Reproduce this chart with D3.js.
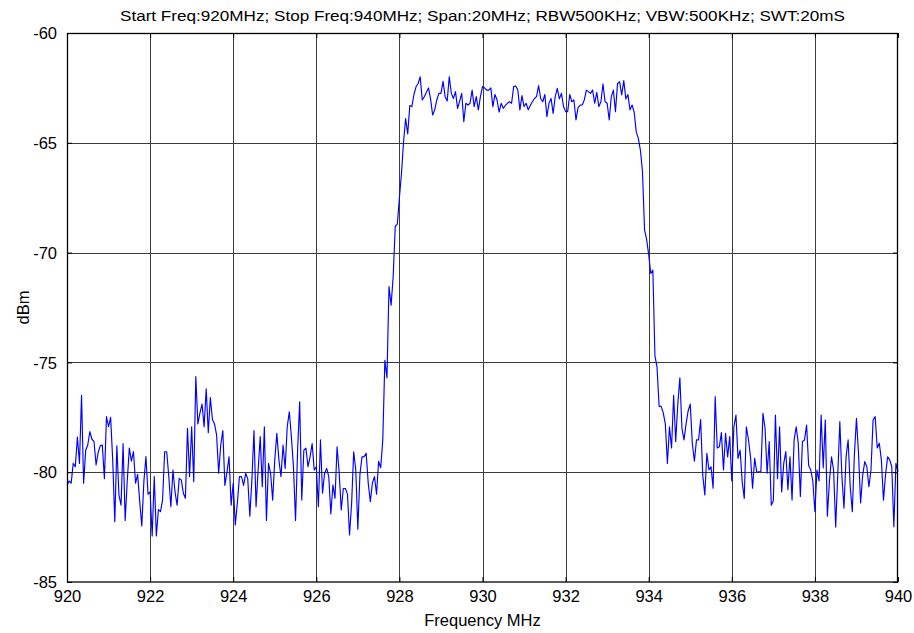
<!DOCTYPE html>
<html>
<head>
<meta charset="utf-8">
<script src="https://cdn.jsdelivr.net/npm/d3@7"></script>
<style>
  html, body { margin: 0; padding: 0; background: #fff; }
  svg text { font-family: "Liberation Sans", Arial, sans-serif; fill: #000; }
</style>
</head>
<body>
<svg id="chart" width="914" height="633"></svg>
<script>
// Sweep settings
const startFreq = 920;
const stopFreq = 940;
const title = "Start Freq:920MHz; Stop Freq:940MHz; Span:20MHz; RBW500KHz; VBW:500KHz; SWT:20mS";
const xLabel = "Frequency MHz";
const yLabel = "dBm";
const xTicks = [920, 922, 924, 926, 928, 930, 932, 934, 936, 938, 940];
const yTicks = [-85, -80, -75, -70, -65, -60];

// Measured trace level (dBm), one reading per sweep point, 1 MHz per row
const levels = [
  -80.6,-80.4,-80.5,-79.6,-79.75,-78.4,-79.6,-76.5,-80.5,-79.0,-78.76,-78.15,-78.5,-78.6,-79.67,-79.1,-78.8,-78.76,-80.3,-77.47,
  -77.93,-77.5,-79.45,-82.25,-78.8,-81.04,-81.5,-78.7,-82.2,-80.4,-78.9,-79.5,-79.06,-80.5,-80.1,-81.34,-82.45,-80.43,-79.29,-81.0,
  -80.9,-82.9,-80.2,-82.9,-81.7,-81.8,-81.27,-79.07,-79.07,-80.2,-81.57,-79.9,-80.9,-81.5,-80.28,-80.35,-80.96,-81.19,-78.0,-80.2,
  -77.93,-80.43,-75.65,-77.8,-77.3,-76.9,-77.93,-76.2,-78.2,-76.6,-77.6,-77.8,-78.3,-80.05,-78.76,-78.1,-80.6,-80.0,-79.3,-81.5,
  -80.5,-82.4,-81.4,-80.2,-80.2,-80.6,-80.05,-80.3,-82.0,-80.35,-78.1,-81.57,-79.9,-78.38,-80.66,-77.93,-82.2,-79.6,-80.05,-81.27,
  -79.45,-78.23,-79.45,-80.2,-78.76,-79.83,-77.93,-77.25,-78.38,-79.75,-82.2,-79.0,-76.79,-81.27,-79.0,-78.9,-79.75,-79.3,-78.7,-79.9,
  -79.75,-81.57,-78.53,-80.96,-80.05,-79.83,-80.2,-81.9,-80.58,-81.19,-78.84,-80.0,-81.72,-80.74,-80.74,-81.0,-82.86,-81.42,-79.07,-79.9,
  -82.6,-80.1,-79.3,-79.3,-79.14,-80.5,-81.34,-80.5,-80.2,-81.0,-79.5,-79.8,-78.53,-74.9,-75.7,-71.55,-72.4,-71.1,-68.8,-68.7,
  -67.5,-66.4,-64.95,-63.9,-64.6,-63.3,-63.35,-62.8,-62.45,-62.3,-62.0,-63.05,-62.9,-62.7,-62.5,-63.0,-63.73,-63.5,-63.05,-62.75,
  -62.75,-62.2,-62.9,-63.1,-61.99,-62.75,-62.98,-62.67,-63.43,-63.1,-62.75,-64.04,-63.2,-63.28,-63.2,-62.6,-63.35,-62.9,-63.5,-62.9,
  -62.44,-62.5,-62.6,-62.6,-62.5,-63.35,-62.8,-63.05,-63.6,-63.2,-63.43,-63.3,-63.2,-63.13,-63.2,-62.44,-62.41,-62.6,-63.5,-62.85,
  -63.35,-63.2,-63.5,-63.3,-63.13,-62.98,-62.9,-62.4,-62.98,-63.13,-62.8,-63.81,-63.2,-62.98,-63.66,-62.9,-62.52,-63.0,-62.75,-63.35,
  -63.58,-63.58,-62.8,-63.13,-63.05,-63.96,-63.4,-63.28,-63.28,-63.05,-62.6,-62.67,-62.75,-62.6,-63.2,-62.7,-63.35,-63.13,-62.32,-63.13,
  -63.2,-63.96,-62.9,-62.6,-63.58,-62.3,-62.22,-62.82,-62.17,-63.0,-62.8,-63.5,-63.28,-63.6,-64.5,-64.8,-65.33,-66.3,-68.97,-69.4,
  -70.1,-70.95,-70.8,-74.7,-75.2,-77.0,-77.0,-77.3,-77.8,-79.6,-77.93,-78.9,-76.5,-78.6,-76.9,-75.7,-78.0,-78.53,-77.8,-77.2,
  -76.9,-78.7,-79.5,-78.53,-78.53,-77.6,-80.13,-81.04,-79.14,-79.9,-79.75,-80.73,-76.56,-78.9,-78.84,-78.2,-79.9,-78.23,-79.3,-78.38,
  -80.4,-77.93,-77.4,-79.37,-79.0,-80.43,-81.19,-77.93,-78.5,-79.3,-80.73,-79.37,-80.0,-79.98,-79.98,-77.32,-78.0,-80.05,-78.6,-81.5,
  -81.3,-77.4,-80.3,-77.93,-80.9,-79.6,-79.06,-80.8,-79.3,-81.27,-78.53,-77.93,-78.68,-81.1,-78.6,-78.53,-77.85,-79.7,-79.9,-80.4,
  -81.8,-79.9,-80.4,-77.4,-79.8,-77.62,-82.0,-80.4,-79.3,-79.9,-82.5,-80.13,-77.7,-80.2,-81.64,-79.3,-78.53,-80.66,-81.8,-79.22,
  -77.55,-79.14,-81.4,-80.13,-79.52,-79.75,-80.66,-79.9,-77.62,-77.47,-78.9,-78.68,-79.44,-81.27,-80.13,-79.3,-79.44,-79.75,-82.48,-79.6,
  -79.98
];

// Sweep points are evenly spaced across the span
const step = (stopFreq - startFreq) / (levels.length - 1);
const trace = levels.map((v, i) => ({ f: startFreq + i * step, v }));

const svg = d3.select("#chart");
const margin = { left: 67, right: 16, top: 33, bottom: 51 };
const W = 914, H = 633;
const x = d3.scaleLinear().domain([startFreq, stopFreq]).range([margin.left, W - margin.right]);
const y = d3.scaleLinear().domain([-85, -60]).range([H - margin.bottom, margin.top]);
const plotW = W - margin.left - margin.right;
const plotH = H - margin.top - margin.bottom;
const fmt = d => String(d);   // plain hyphen-minus for negative labels

// Grid
const gridColor = "#3c3c3c";
const grid = svg.append("g").attr("class", "grid");
grid.selectAll("line.gx").data(xTicks.slice(1, -1)).join("line")
  .attr("x1", d => Math.round(x(d)) + 0.5).attr("x2", d => Math.round(x(d)) + 0.5)
  .attr("y1", margin.top).attr("y2", H - margin.bottom)
  .attr("stroke", gridColor).attr("stroke-width", 1);
grid.selectAll("line.gy").data(yTicks.slice(1, -1)).join("line")
  .attr("y1", d => Math.round(y(d)) + 0.5).attr("y2", d => Math.round(y(d)) + 0.5)
  .attr("x1", margin.left).attr("x2", W - margin.right)
  .attr("stroke", gridColor).attr("stroke-width", 1);

// Trace
const line = d3.line().x(d => x(d.f)).y(d => y(d.v));
svg.append("path").datum(trace)
  .attr("fill", "none").attr("stroke", "#0000ff").attr("stroke-width", 1.15)
  .attr("stroke-linejoin", "round")
  .attr("d", line);

// Axes (ticks pointing inward, box on all four sides)
const tickLen = 5;
const axisFont = "16.5px";
const axBottom = svg.append("g").attr("transform", `translate(0,${H - margin.bottom})`)
  .call(d3.axisBottom(x).tickValues(xTicks).tickFormat(fmt).tickSizeInner(-tickLen).tickSizeOuter(0).tickPadding(tickLen + 3));
const axTop = svg.append("g").attr("transform", `translate(0,${margin.top})`)
  .call(d3.axisTop(x).tickValues(xTicks).tickFormat("").tickSizeInner(-tickLen).tickSizeOuter(0));
const axLeft = svg.append("g").attr("transform", `translate(${margin.left},0)`)
  .call(d3.axisLeft(y).tickValues(yTicks).tickFormat(fmt).tickSizeInner(-tickLen).tickSizeOuter(0).tickPadding(tickLen + 5));
const axRight = svg.append("g").attr("transform", `translate(${W - margin.right},0)`)
  .call(d3.axisRight(y).tickValues(yTicks).tickFormat("").tickSizeInner(-tickLen).tickSizeOuter(0));

[axBottom, axTop, axLeft, axRight].forEach(g => {
  g.select(".domain").remove();
  g.selectAll(".tick line").attr("stroke", "#000");
  g.selectAll("text").style("font-size", axisFont).style("font-family", "Liberation Sans, Arial, sans-serif");
});
axBottom.selectAll("text").attr("fill", "#000");
axLeft.selectAll("text").attr("fill", "#000").attr("dy", "0.35em");

// Frame
svg.append("rect")
  .attr("x", margin.left + 0.5).attr("y", margin.top + 0.5)
  .attr("width", plotW - 1).attr("height", plotH - 0.5)
  .attr("fill", "none").attr("stroke", "#000").attr("stroke-width", 1.3);

// Labels
svg.append("text").attr("x", (margin.left + W - margin.right) / 2).attr("y", 21)
  .attr("text-anchor", "middle").style("font-size", "15.5px")
  .attr("textLength", 725).attr("lengthAdjust", "spacingAndGlyphs")
  .text(title);
svg.append("text").attr("x", (margin.left + W - margin.right) / 2).attr("y", 626)
  .attr("text-anchor", "middle").style("font-size", "16.5px").text(xLabel);
svg.append("text").attr("transform", `translate(29,${(margin.top + H - margin.bottom) / 2}) rotate(-90)`)
  .attr("text-anchor", "middle").style("font-size", "16.5px").text(yLabel);
</script>
</body>
</html>
